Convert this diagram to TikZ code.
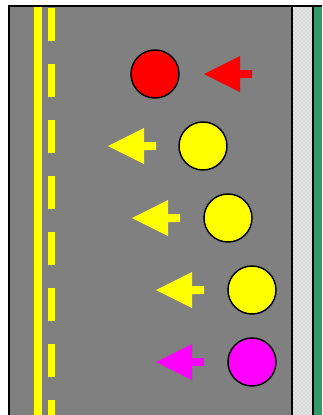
\documentclass[tikz,border=0pt]{standalone}
\usepackage{tikz}
\usetikzlibrary{patterns}
\definecolor{roadgray}{HTML}{808080}
\definecolor{curbgreen}{HTML}{339966}
\definecolor{walkgray}{HTML}{DADADA}
\definecolor{carred}{RGB}{255,0,0}
\definecolor{caryellow}{RGB}{255,255,0}
\definecolor{carmagenta}{RGB}{255,0,255}

\begin{document}
\begin{tikzpicture}[x=0.75pt,y=-0.75pt]
  \useasboundingbox (0,0) rectangle (322,415);
  % road, sidewalk, grass
  \fill[roadgray] (9,6) rectangle (292,415);
  \fill[walkgray] (292,6) rectangle (313,415);
  \fill[pattern=crosshatch dots,pattern color=white] (292,6) rectangle (313,415);
  \fill[curbgreen] (313,6) rectangle (322,415);
  % center lines
  \fill[caryellow] (34,6) rectangle (42,415);
  \foreach \y in {8,64,...,400} \fill[caryellow] (48,\y) rectangle (55,\y+33);
  % edges
  \draw[line width=0.9pt] (9,415) -- (9,6) -- (322,6);
  \draw[line width=0.9pt] (292,6) -- (292,415);
  \draw[line width=0.9pt] (313,6) -- (313,415);
  % vehicles and their directions
  \foreach \cx/\cy/\tx/\col in {155/74/204/carred, 203/146/108/caryellow, 228/218/132/caryellow, 252/290/156/caryellow, 252/362/156/carmagenta} {
    \filldraw[fill=\col,line width=1.1pt] (\cx,\cy) circle (24);
    \fill[\col] (\tx,\cy) -- ++(36,-18) -- ++(0,14) -- ++(12,0) -- ++(0,8) -- ++(-12,0) -- ++(0,14) -- cycle;
  }
\end{tikzpicture}
\end{document}
